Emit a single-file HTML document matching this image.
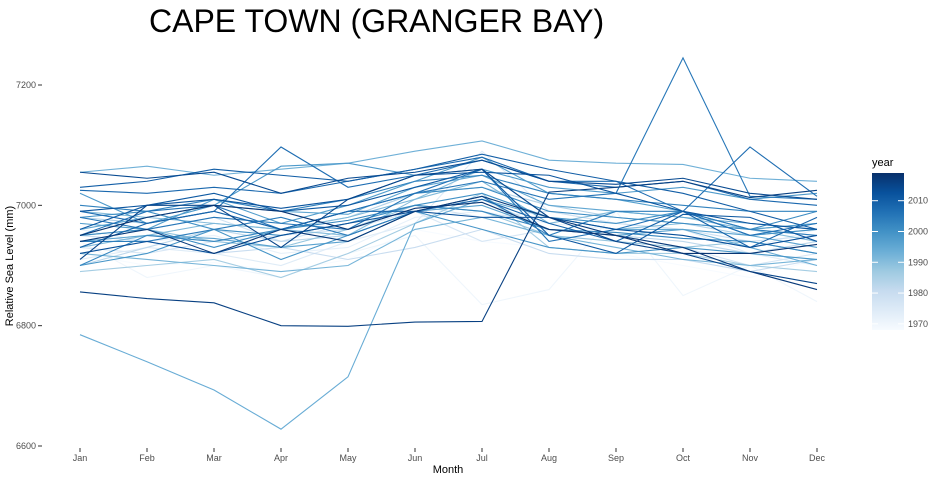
<!DOCTYPE html>
<html><head><meta charset="utf-8"><style>
body{margin:0;background:#fff;font-family:"Liberation Sans",sans-serif}
svg text{font-family:"Liberation Sans",sans-serif}
</style></head><body>
<svg id="c" width="940" height="480" viewBox="0 0 940 480">
<text x="149" y="32" font-size="32" fill="#000">CAPE TOWN (GRANGER BAY)</text>
<text x="13" y="266" font-size="11" fill="#000" text-anchor="middle" transform="rotate(-90 13 266)">Relative Sea Level (mm)</text>
<text x="448" y="473" font-size="11" fill="#000" text-anchor="middle">Month</text>
<g id="axes"></g><g id="lines"></g><g id="legend"></g>
</svg>
<script>
const months=["Jan","Feb","Mar","Apr","May","Jun","Jul","Aug","Sep","Oct","Nov","Dec"];
const yTicks=[6600,6800,7000,7200];
const legendTicks=[1970,1980,1990,2000,2010];
const years=[1968,1970,1972,1974,1976,1978,1980,1982,1984,1986,1988,1990,1991,1992,1993,1994,1995,1996,1997,1998,1999,2000,2001,2002,2003,2004,2005,2006,2007,2008,2009,2010,2011,2012,2013,2014,2015,2016,2017,2018];
const levels=[
[6920,6900,6905,6890,6910,6960,6940,6930,6920,6900,6880,6910],
[6940,6880,6900,6880,6920,6950,6835,6860,6990,6850,6900,6840],
[6960,6940,6950,6920,6930,6980,6990,6970,6960,6950,6930,6960],
[6910,6930,6920,6900,6940,6970,7090,6990,6970,6960,6920,6900],
[6930,6920,6940,6950,6960,6990,6940,6960,6950,6930,6900,6920],
[6970,6960,6980,6940,6970,7000,6980,6990,6970,6960,6940,6950],
[6950,6940,6920,6930,6910,6930,6960,6920,6910,6910,6890,6910],
[6900,6930,6960,6940,6950,6990,7010,6960,6950,6940,6920,6940],
[6980,6970,6990,6960,6980,7020,7030,7000,6980,6970,6950,6960],
[6890,6900,6910,6880,6920,6970,7020,6930,6920,6920,6900,6890],
[6950,6960,6940,6930,6960,7000,6990,6950,6940,6930,6940,6920],
[6990,6980,6970,6960,6950,7010,7060,6980,6960,6970,6960,6940],
[6930,6950,6970,6960,6980,7010,7040,6970,6990,6980,6960,6970],
[6920,6910,6900,6890,6900,6960,6980,6950,6930,6910,6900,6910],
[7055,7065,7050,7060,7070,7090,7107,7075,7070,7068,7045,7040],
[6785,6740,6693,6628,6715,6970,7010,6980,6960,6960,6930,6900],
[6960,6980,7000,6990,6985,7030,7050,7000,6990,6980,6970,6960],
[6940,6950,6945,6930,6940,6990,7000,6960,6950,6960,6950,6930],
[6970,6960,7010,6970,7000,7040,7080,7020,7010,6990,6960,6970],
[7020,6970,7000,7065,7070,7050,7060,7030,7020,7030,7010,7020],
[6900,6920,6960,6910,6950,6990,6960,6930,6920,6930,6920,6910],
[6980,6990,6960,6950,6970,7000,7020,6980,6970,6990,6950,6960],
[6950,6960,6930,6960,6990,7020,7030,6990,6980,6970,6960,6990],
[6900,6950,6940,6960,6975,7000,6990,6960,6955,6945,6940,6920],
[7000,6990,7010,6990,7010,7040,7050,7020,7010,7000,6990,6990],
[6940,6940,6960,6980,6950,6990,7015,6950,6990,6990,6960,6950],
[6980,6960,6980,6970,6960,7020,7040,7010,7020,7245,7015,7010],
[6950,6990,7000,6960,6990,7020,7060,6940,6960,6990,6950,6970],
[6990,6970,6990,7097,7030,7050,7075,7040,7040,6990,7097,7015],
[7025,7020,7030,7020,7040,7060,7080,7040,7030,7040,7010,7000],
[6930,6970,6990,6960,6990,6990,7010,6970,6940,6990,6930,6980],
[7030,7040,7060,7050,7040,7060,7085,7060,7040,7020,6990,6960],
[6960,7000,7020,6990,7000,7030,7060,6950,6920,6985,6980,6940],
[6990,7000,7010,6995,7010,7050,7055,7050,7020,6990,6970,6960],
[6920,6940,6920,6950,6970,6990,6980,6980,6960,6950,6930,6950],
[7055,7045,7055,7020,7045,7055,7075,7040,7035,7045,7020,7010],
[6910,7000,7000,6930,7010,7050,7060,6980,6940,6920,6890,6870],
[6856,6845,6838,6800,6799,6806,6807,7022,7030,7040,7013,7025],
[6940,6960,6920,6960,6940,6990,7015,6980,6950,6930,6890,6860],
[6950,6980,7000,6990,6960,6995,7005,6960,6950,6920,6920,6935]
];
const NS="http://www.w3.org/2000/svg";
function x(i){return 80+i*67;}
function y(v){return 446-(v-6600)*361/600;}
const yMin=1968,yMax=2019;
const stops=["#f7fbff","#deebf7","#c6dbef","#9ecae1","#6baed6","#4292c6","#2171b5","#08519c","#08306b"];
function hex(h){return [1,3,5].map(i=>parseInt(h.substr(i,2),16));}
function color(yr){let t=Math.max(0,Math.min(1,(yr-yMin)/(yMax-yMin)))*(stops.length-1);let i=Math.min(Math.floor(t),stops.length-2),f=t-i;const a=hex(stops[i]),b=hex(stops[i+1]);return "rgb("+a.map((c,k)=>Math.round(c+(b[k]-c)*f)).join(",")+")";}
function el(tag,attrs,parent){const e=document.createElementNS(NS,tag);for(const k in attrs)e.setAttribute(k,attrs[k]);parent.appendChild(e);return e;}
const axes=document.getElementById('axes');
yTicks.forEach(v=>{
 const t=el('line',{x1:38,x2:42,y1:y(v),y2:y(v),stroke:'#333'},axes);
 
 
 const l=el('text',{x:36,y:y(v)+3,'font-size':9,'text-anchor':'end',fill:'#4d4d4d'},axes);l.textContent=v;
 
 
});
months.forEach((m,i)=>{
 const t=el('line',{x1:x(i),x2:x(i),y1:448,y2:452,stroke:'#333'},axes);
 
 
 const l=el('text',{x:x(i),y:461,'font-size':9,'text-anchor':'middle',fill:'#4d4d4d'},axes);l.textContent=m;
 
 
});
const linesG=document.getElementById('lines');
years.forEach((yr,k)=>{
 const p=el('polyline',{points:levels[k].map((v,i)=>x(i)+','+y(v)).join(' '),fill:'none',stroke:color(yr),'stroke-width':1.1},linesG);
 
 
});
const lg=document.getElementById('legend');
const lt=el('text',{x:872,y:166,'font-size':11,fill:'#000'},lg);lt.textContent='year';


const defs=el('defs',{},lg);
const gr=el('linearGradient',{id:'g',x1:0,y1:1,x2:0,y2:0},defs);
stops.forEach((s,i)=>el('stop',{offset:i/(stops.length-1),'stop-color':s},gr));
const barTop=173,barBot=330;
function ly(yr){return barBot-(yr-yMin)/(yMax-yMin)*(barBot-barTop);}
const bar=el('rect',{x:872,y:barTop,width:32,height:barBot-barTop,fill:'url(#g)'},lg);


legendTicks.forEach(v=>{
 el('line',{x1:872,x2:878,y1:ly(v),y2:ly(v),stroke:'#fff'},lg);
 el('line',{x1:898,x2:904,y1:ly(v),y2:ly(v),stroke:'#fff'},lg);
 const l=el('text',{x:908,y:ly(v)+3,'font-size':9,fill:'#4d4d4d'},lg);l.textContent=v;
 
 
});
</script>
</body></html>
